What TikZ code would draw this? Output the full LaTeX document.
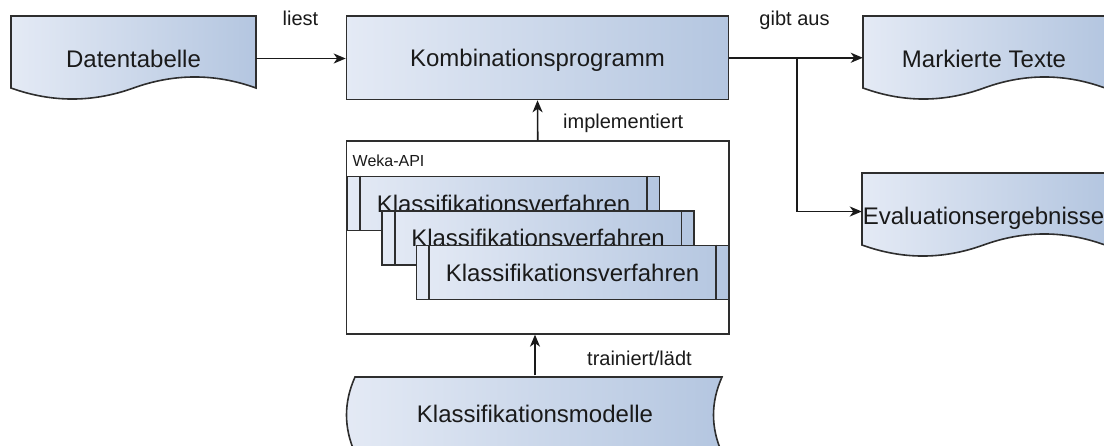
\documentclass[tikz,border=0pt]{standalone}
\usepackage{fontspec}
\setmainfont{Liberation Sans}
\usetikzlibrary{arrows.meta}

\definecolor{edgegray}{HTML}{2E2E2E}
\definecolor{ink}{HTML}{1A1A1A}
\definecolor{fillL}{HTML}{E4EAF5}
\definecolor{fillR}{HTML}{B4C6E0}

\tikzset{
  shaded/.style={draw=edgegray, line width=1.6pt, left color=fillL, right color=fillR},
  conn/.style={draw=ink, line width=1.6pt, -{Stealth[length=12pt,width=10pt,inset=3.5pt]}},
  thinline/.style={draw=edgegray, line width=1.6pt},
  bigtext/.style={font=\fontsize{24}{28}\selectfont, text=ink, text height=17.2pt, text depth=0pt, inner sep=0pt},
  lbl/.style={font=\fontsize{20}{24}\selectfont, text=ink, inner sep=0pt},
  smalllbl/.style={font=\fontsize{16}{19}\selectfont, text=ink, inner sep=0pt},
  procbox/.style={shaded, bigtext, minimum width=312pt, minimum height=54pt},
}

% document shape: name, left, top, width, text
\newcommand\docshape[5]{%
  \path[shaded] (#2,#3) -- ++(#4,0) -- ++(0,72)
    .. controls ({#2+#4*5/6},{#3+72-14.7}) and ({#2+#4*4/6},{#3+72-14.7}) .. ({#2+#4/2},{#3+72})
    .. controls ({#2+#4*2/6},{#3+72+14.7}) and ({#2+#4/6},{#3+72+14.7}) .. (#2,{#3+72}) -- cycle;
  \node[bigtext, minimum width=#4pt, minimum height=85pt] (#1) at ({#2+#4/2},{#3+42.5}) {#5};
}

% process shape with side bars: name, left, top, text
\newcommand\procshape[4]{%
  \node[procbox] (#1) at ({#2+156},{#3+27}) {#4};
  \draw[thinline] ([xshift=13.5pt]#1.north west) -- ([xshift=13.5pt]#1.south west);
  \draw[thinline] ([xshift=-13.5pt]#1.north east) -- ([xshift=-13.5pt]#1.south east);
}

\begin{document}
\begin{tikzpicture}[x=1pt,y=-1pt]
\useasboundingbox (0,0) rectangle (1104,445);
\clip (0,0) rectangle (1104,445);

% input and output documents
\docshape{daten}{11}{16}{245}{Datentabelle}
\docshape{mark}{863}{16}{242}{Markierte Texte}
\docshape{eval}{862}{173}{243}{Evaluationsergebnisse}

% main program
\node[shaded, bigtext, minimum width=382pt, minimum height=83.5pt] (kombi) at (537.5,57.75) {Kombinationsprogramm};

% library container
\node[draw=edgegray, line width=1.3pt, fill=white, minimum width=382.5pt, minimum height=193pt, inner sep=0pt] (weka) at (537.75,237.5) {};
\node[smalllbl, anchor=base west] (wekalbl) at (352.5,166.5) {Weka-API};

\procshape{verf1}{347.5}{176.5}{Klassifikationsverfahren}
\procshape{verf2}{382}{211}{Klassifikationsverfahren}
\procshape{verf3}{416.5}{245.5}{Klassifikationsverfahren}

% stored models
\path[shaded] (355,377) -- (722,377)
  .. controls (710.67,402.33) and (710.67,427.67) .. (722,453) -- (355,453)
  .. controls (343.67,427.67) and (343.67,402.33) .. (355,377) -- cycle;
\node[bigtext, minimum width=367pt, minimum height=76pt] (modelle) at (535,413.5) {Klassifikationsmodelle};

% connectors
\coordinate (split) at (797,0);
\draw[conn] (daten.east) -- (daten.east -| kombi.west);
\draw[conn] (kombi.east) -- (kombi.east -| mark.west);
\draw[conn] (split |- kombi.east) |- ([yshift=4pt]eval.west);
\draw[conn] (weka.north) -- (kombi.south);
\draw[conn] (modelle.north) -- (modelle.north |- weka.south);

% connector labels
\node[lbl, anchor=base] (lliest) at (300.5,25) {liest};
\node[lbl, anchor=base] (lgibt) at (794.5,25) {gibt aus};
\node[lbl, anchor=base west] (limpl) at (563,128.3) {implementiert};
\node[lbl, anchor=base west] (ltrain) at (587,365) {trainiert/lädt};
\end{tikzpicture}
\end{document}
